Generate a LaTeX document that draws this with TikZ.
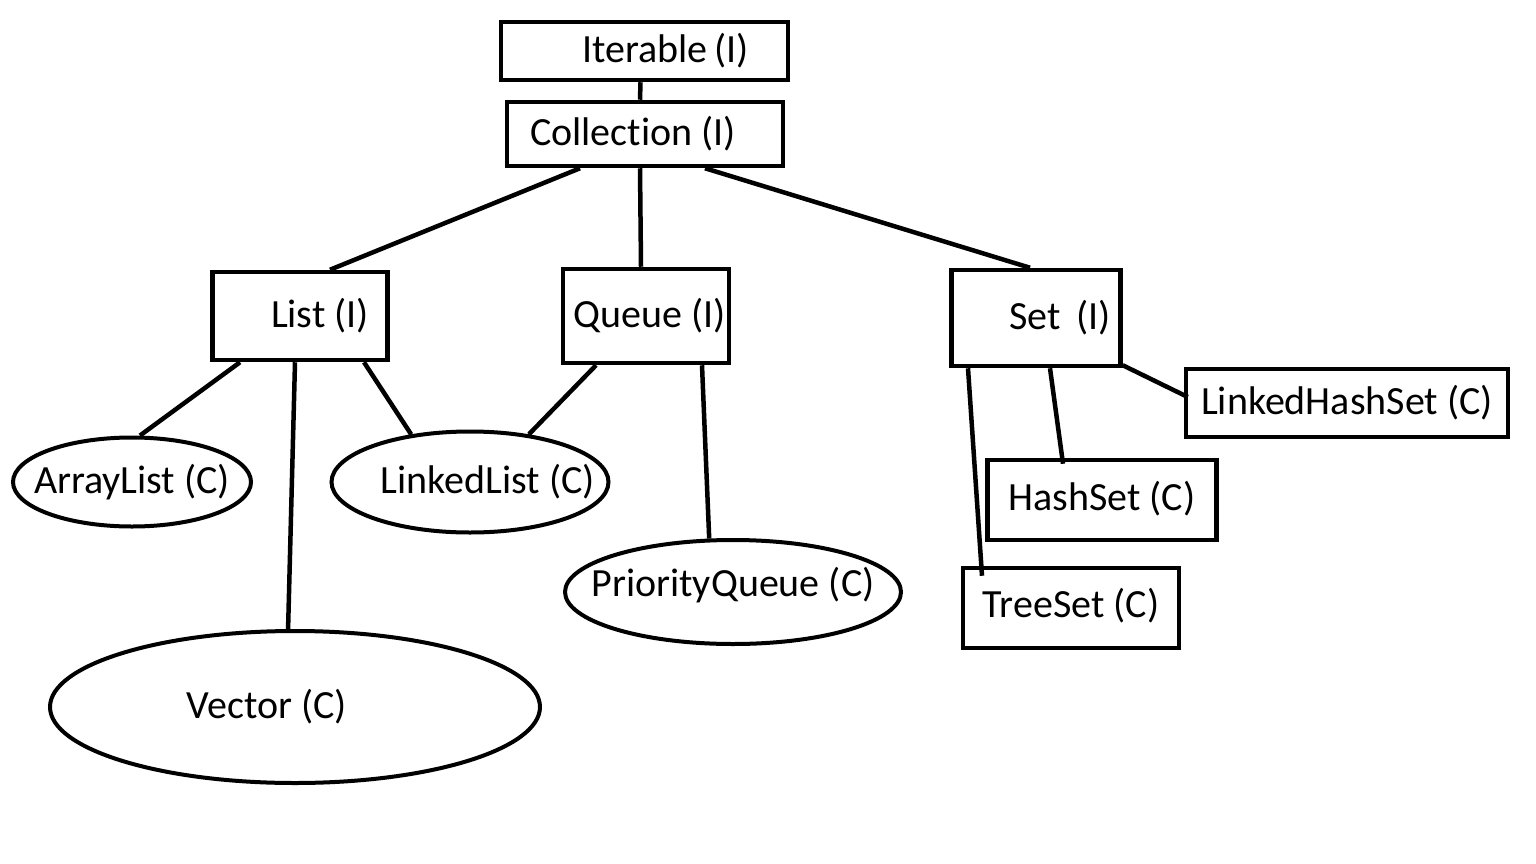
\documentclass[tikz,border=0pt]{standalone}
\usepackage{fontspec}
\setmainfont{Carlito}[Ligatures=NoCommon]
\usetikzlibrary{shapes.geometric}

\begin{document}
\begin{tikzpicture}[
  x=1pt, y=-1pt,
  font=\fontsize{40}{48}\selectfont,
  box/.style={draw, line width=4.5pt, rectangle, inner sep=0pt},
  oval/.style={draw, line width=4pt, ellipse, inner sep=0pt},
  link/.style={line width=4.5pt}]
  \useasboundingbox (0,0) rectangle (1536,864);
  % interfaces
  \node[box, minimum width=287pt, minimum height=58pt] (iter) at (644.5,51) {\hspace*{42pt}\raisebox{6pt}{Iterable\,(I)}};
  \node[box, minimum width=276pt, minimum height=64pt] (coll) at (645,134) {Collection (I)\hspace*{24pt}};
  \node[box, minimum width=175pt, minimum height=88pt] (list) at (300,316) {\hspace*{40pt}\raisebox{-12pt}{List (I)}};
  \node[box, minimum width=166pt, minimum height=94pt] (queue) at (646,316) {\hspace*{8pt}\raisebox{-6pt}{Queue (I)}};
  \node[box, minimum width=169pt, minimum height=96pt] (set) at (1036,318) {\hspace*{48pt}Set\, (I)};
  % classes
  \node[oval, minimum width=238pt, minimum height=89pt] (alist) at (132,482) {\makebox[0pt]{ArrayList (C)}};
  \node[oval, minimum width=277pt, minimum height=101pt] (llist) at (470,482) {\makebox[0pt]{\hspace*{36pt}LinkedList (C)}};
  \node[oval, minimum width=336pt, minimum height=104pt] (pq) at (733,592) {\makebox[0pt]{\raisebox{20pt}{PriorityQueue (C)}}};
  \node[oval, minimum width=490pt, minimum height=152pt] (vec) at (295,707) {\makebox[0pt]{Vector (C)\hspace*{56pt}}};
  \node[box, minimum width=322pt, minimum height=68pt] (lhs) at (1347,403) {LinkedHashSet (C)};
  \node[box, minimum width=229pt, minimum height=80pt] (hs) at (1102,500) {\raisebox{8pt}{HashSet (C)}};
  \node[box, minimum width=216pt, minimum height=80pt] (ts) at (1071,608) {\raisebox{10pt}{TreeSet (C)}};
  % links
  \draw[link] ([xshift=-4pt]iter.south) -- ([xshift=-5pt]coll.north);
  \draw[link] ([xshift=-65pt]coll.south) -- ([xshift=30pt]list.north);
  \draw[link] ([xshift=-5pt]coll.south) -- ([xshift=-5pt]queue.north);
  \draw[link] ([xshift=60pt]coll.south) -- ([xshift=-6pt]set.north);
  \draw[link] ([xshift=-60pt]list.south) -- ([xshift=8pt]alist.north);
  \draw[link] ([xshift=-5pt]list.south) -- ([xshift=-7pt,yshift=-3pt]vec.north);
  \draw[link] ([xshift=64pt]list.south) -- (llist.141);
  \draw[link] ([xshift=-50pt]queue.south) -- (llist.39);
  \draw[link] ([xshift=56pt]queue.south) -- (pq.114);
  \draw[link] ([xshift=-68pt]set.south) -- ([xshift=-89pt,yshift=-10pt]ts.north);
  \draw[link] ([xshift=14pt]set.south) -- ([xshift=-39pt,yshift=-6pt]hs.north);
  \draw[link] ([yshift=3pt]set.south east) -- ([xshift=4pt,yshift=6pt]lhs.west);
\end{tikzpicture}
\end{document}
